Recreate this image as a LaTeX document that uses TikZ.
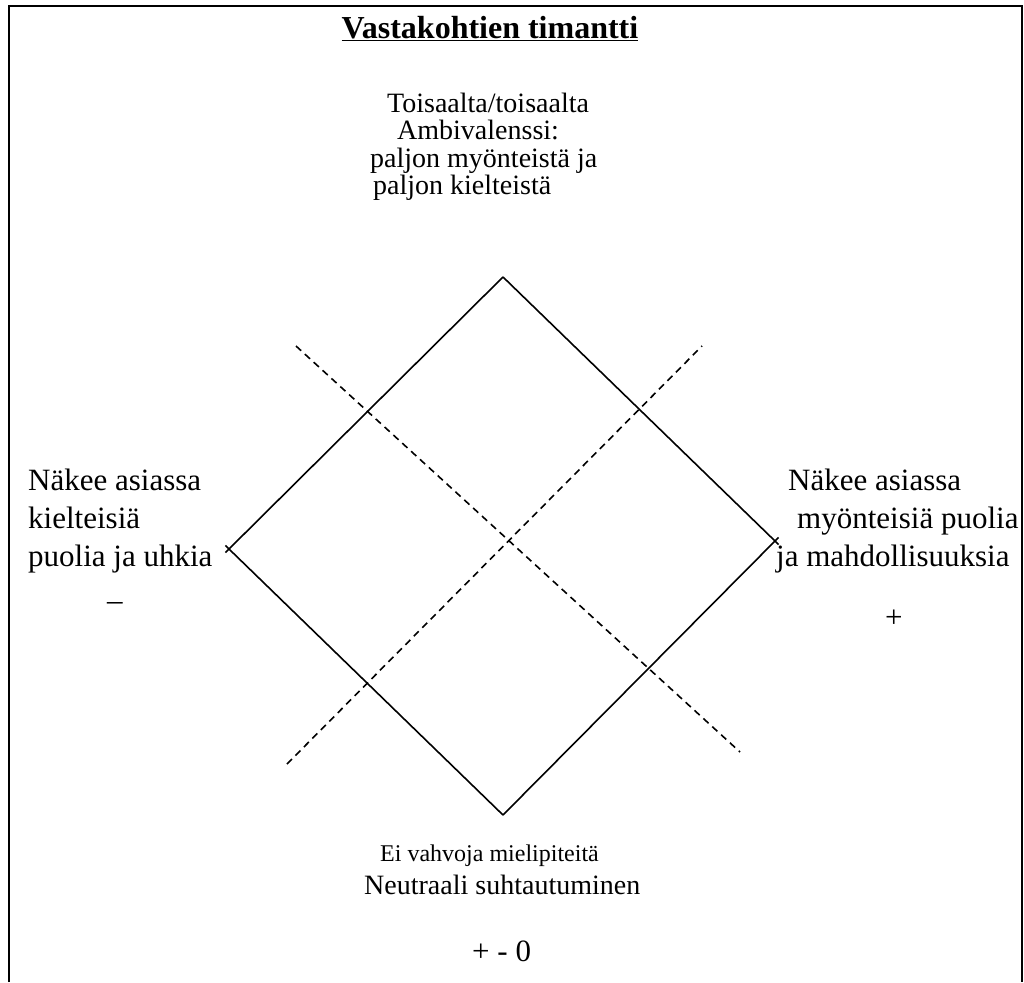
\documentclass[tikz,border=0pt]{standalone}
\usepackage{fontspec}
\setmainfont{Liberation Serif}
\begin{document}
\begin{tikzpicture}[x=1pt,y=-1pt,
  txt/.style={anchor=base west,inner sep=0pt,font=\fontsize{28}{28}\selectfont},
  big/.style={txt,font=\fontsize{31}{31}\selectfont},
  small/.style={txt,font=\fontsize{24}{24}\selectfont},
  ttl/.style={anchor=base,inner sep=0pt,font=\fontsize{32}{32}\selectfont\bfseries},
  frame/.style={line width=2.5pt},
  edge/.style={line width=1.6pt},
  axis/.style={line width=1.6pt,dash pattern=on 7pt off 5pt}]
\useasboundingbox (0,0) rectangle (1024,982);
% open frame
\coordinate (f1) at (9,982);
\coordinate (f2) at (9,6);
\coordinate (f3) at (1022,6);
\coordinate (f4) at (1022,982);
\draw[frame] (f1) -- (f2) -- (f3) -- (f4);
% title
\node[ttl] (title) at (490,38) {\underline{Vastakohtien timantti}};
% diamond corners
\coordinate (T) at (503,277);
\coordinate (L) at (229,549);
\coordinate (B) at (503,815);
\coordinate (R) at (775,541);
\draw[edge,shorten >=-5pt] (T) -- (L);
\draw[edge,shorten <=-5pt] (L) -- (B);
\draw[edge,shorten >=-5pt] (B) -- (R);
\draw[edge,shorten <=-5pt] (R) -- (T);
% dashed axes
\coordinate (d1a) at (296,346);
\coordinate (d1b) at (740,752);
\coordinate (d2a) at (287,764);
\coordinate (d2b) at (702,346);
\draw[axis] (d1a) -- (d1b);
\draw[axis] (d2a) -- (d2b);
% top label
\node[txt] (t1) at (387,112) {Toisaalta/toisaalta};
\node[txt] (t2) at (397,139) {Ambivalenssi:};
\node[txt] (t3) at (370,167) {paljon myönteistä ja};
\node[txt] (t4) at (373,194) {paljon kielteistä};
% left label
\node[big] (l1) at (28,490) {Näkee asiassa};
\node[big] (l2) at (28,528) {kielteisiä};
\node[big] (l3) at (28,566) {puolia ja uhkia};
\node[big] (l4) at (107,610) {–};
% right label
\node[big] (r1) at (788,490) {Näkee asiassa};
\node[big] (r2) at (797,528) {myönteisiä puolia};
\node[big] (r3) at (776,566) {ja mahdollisuuksia};
\node[big] (r4) at (885,627) {+};
% bottom label
\node[small] (b1) at (380,861) {Ei vahvoja mielipiteitä};
\node[txt] (b2) at (364,894) {Neutraali suhtautuminen};
\node[big] (b3) at (472,961) {+ - 0};
\end{tikzpicture}
\end{document}
